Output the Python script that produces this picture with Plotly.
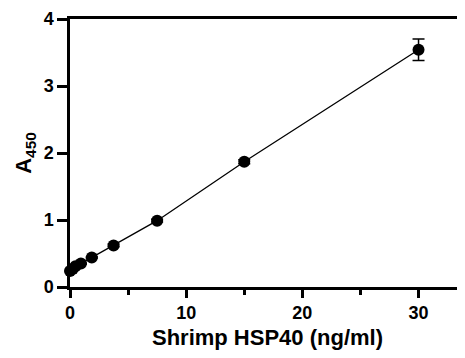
import plotly.graph_objects as go

conc = [0, 0.234, 0.469, 0.938, 1.875, 3.75, 7.5, 15, 30]
a450 = [0.24, 0.27, 0.31, 0.35, 0.44, 0.62, 0.99, 1.87, 3.54]
err = [0.01, 0.01, 0.01, 0.01, 0.01, 0.02, 0.02, 0.03, 0.16]
x_ticks = [0, 10, 20, 30]
y_ticks = [0, 1, 2, 3, 4]

font = "Liberation Sans, Arial, sans-serif"

fig = go.Figure()
fig.add_trace(go.Scatter(
    x=conc, y=a450, mode="lines+markers",
    line=dict(color="black", width=1.3),
    marker=dict(color="black", size=12),
    error_y=dict(type="data", array=err, color="black", thickness=1.5, width=6),
    cliponaxis=False, showlegend=False,
))

fig.update_layout(
    width=465, height=358,
    margin=dict(l=62, r=8, t=11, b=79, autoexpand=False),
    plot_bgcolor="white", paper_bgcolor="white",
    font=dict(family=font, color="black", size=18, weight=700),
)
fig.update_xaxes(
    range=[0, 34], tickmode="array", tickvals=x_ticks,
    ticktext=[f"<b>{v}</b>" for v in x_ticks],
    ticks="outside", ticklen=8, tickwidth=2.5, tickcolor="black",
    minor=dict(tickvals=[5, 15, 25], ticks="outside", ticklen=5, tickwidth=2.5, tickcolor="black"),
    showline=True, linewidth=2.5, linecolor="black", mirror=True,
    showgrid=False, zeroline=False, automargin=False, ticklabeloverflow="allow",
    tickfont=dict(family=font, size=18, weight=700),
    title=dict(text="<b>Shrimp HSP40 (ng/ml)</b>", font=dict(family=font, size=22, weight=700), standoff=8),
)
fig.update_yaxes(
    range=[0, 4], tickmode="array", tickvals=y_ticks,
    ticktext=[f"<b>{v}</b>" for v in y_ticks],
    ticks="outside", ticklen=10, tickwidth=2.5, tickcolor="black",
    showline=True, linewidth=2.5, linecolor="black",
    showgrid=False, zeroline=False, automargin=False, ticklabeloverflow="allow",
    tickfont=dict(family=font, size=18, weight=700),
    title=dict(text="<b>A<sub>450</sub></b>", font=dict(family=font, size=22, weight=700), standoff=6),
)

fig.write_html("out.html")
